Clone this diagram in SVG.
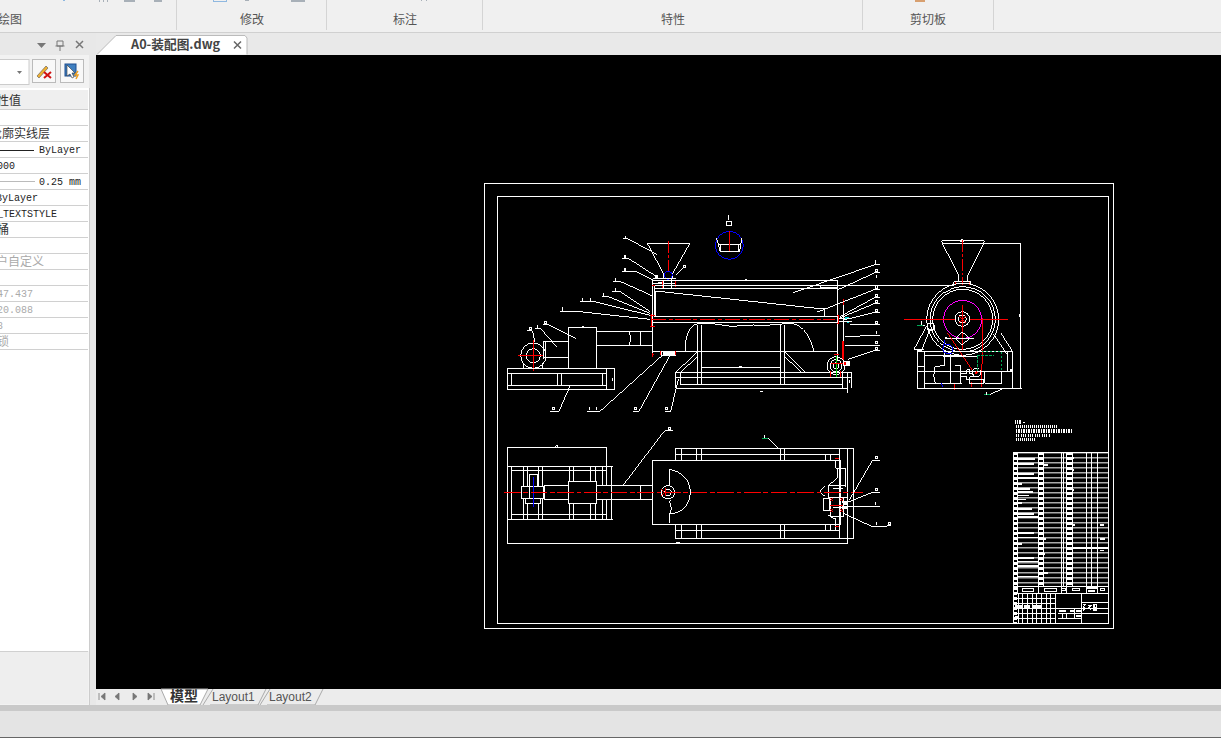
<svg xmlns="http://www.w3.org/2000/svg" width="1221" height="744" viewBox="0 0 1221 744">
<style>
.cn{font-family:"Noto Sans CJK SC","Liberation Sans",sans-serif}
.ui{font-size:12px;fill:#555}
.mono{font-family:"Liberation Mono","Noto Sans CJK SC",monospace;font-size:10px;fill:#222}
.val{font-size:12px;fill:#333}
.dim{fill:#aaa}
.rowline{stroke:#d0d0d0;stroke-width:1}
.sep{stroke:#d4d4d4;stroke-width:1}
.cad{shape-rendering:crispEdges}
.w{fill:none;stroke:#fff;stroke-width:3}
.t{fill:none;stroke:#fff;stroke-width:3}
.r{fill:none;stroke:#f00;stroke-width:3}
.rd{fill:none;stroke:#f00;stroke-width:3;stroke-dasharray:36 6 8 6}
.b{fill:none;stroke:#00f;stroke-width:3}
.g{fill:none;stroke:#0c0;stroke-width:3}
.m{fill:none;stroke:#f0f;stroke-width:3}
.tag{fill:none;stroke:#fff;stroke-width:3}
</style>
<defs>
<pattern id="rows" width="285" height="15" patternUnits="userSpaceOnUse" x="25" y="127">
<rect x="0" y="0" width="285" height="3" fill="#fff"/>
</pattern>
</defs>

<rect id="bg" width="1221" height="744" fill="#fff"/>
<g id="ribbon">
<rect width="1221" height="32" fill="#f0f0f0"/>
<line x1="0" y1="32.500" x2="1221" y2="32.500" stroke="#d0d0d0"/>
<path class="sep" d="M176.500 0V30M326.500 0V30M482.500 0V30M862.500 0V30M993.500 0V30"/>
<path d="M63 0h2v1h-2zM213 0v2h14v-2h-1v1h-12v-1z" fill="#8fb8e0"/>
<path d="M99 0h1v2h-1zM103 0h1v2h-1zM107 0h1v2h-1zM124 0h11v2h-11zM154 0h8v2h-8zM245 0h4v1h-4zM291 0h14v2h-14zM421 0h1v1h-1zM426 0h1v1h-1z" fill="#a8b0b8"/>
<rect x="915" y="0" width="10" height="2" fill="#d8a070"/>
<g class="cn ui">
<text x="22" y="23.500" text-anchor="end">绘图</text>
<text x="252" y="23.500" text-anchor="middle">修改</text>
<text x="405" y="23.500" text-anchor="middle">标注</text>
<text x="673" y="23.500" text-anchor="middle">特性</text>
<text x="928" y="23.500" text-anchor="middle">剪切板</text>
</g>
</g>

<g id="properties-panel">
<rect x="0" y="33" width="96" height="672" fill="#e8e8e8"/>
<rect x="0" y="55" width="89" height="650" fill="#f2f2f2"/>
<rect x="0" y="88" width="89" height="563" fill="#fff"/>
<rect x="0" y="90" width="88" height="19" fill="#efefef"/>
<line x1="89.500" y1="88" x2="89.500" y2="705" stroke="#ccc"/>
<rect x="0" y="651" width="88" height="53" fill="#eee"/>
<path class="rowline" d="M0 109.500H88M0 125.500H88M0 141.500H88M0 157.500H88M0 173.500H88M0 189.500H88M0 205.500H88M0 221.500H88M0 237.500H88M0 253.500H88M0 269.500H88M0 285.500H88M0 301.500H88M0 317.500H88M0 333.500H88M0 349.500H88M0 651.500H88"/>
<path d="M37 43h9l-4.500 5z" fill="#777"/>
<path d="M57 41h6v5h-6zM60 46v5M55.500 46h9" fill="none" stroke="#777"/>
<path d="M76 41l7 7M83 41l-7 7" stroke="#777" stroke-width="1.500"/>
<rect x="-1" y="59.500" width="30" height="25" fill="#fff" stroke="#ccc"/>
<path d="M17 71h5l-2.500 3z" fill="#777"/>
<rect x="32.500" y="59.500" width="23" height="23" fill="#f8f8f8" stroke="#bbb"/>
<path d="M37 76l9-10 2 2-9 10z" fill="#f0b030" stroke="#555" stroke-width=".6"/>
<path d="M44 72l7 6M51 72l-7 6" stroke="#d01010" stroke-width="2"/>
<rect x="60.500" y="59.500" width="23" height="23" fill="#f8f8f8" stroke="#bbb"/>
<rect x="65" y="64" width="11" height="12" fill="#3f7fc0" stroke="#1f4f90"/>
<path d="M67 65v11l3-2 2 4 2-1-2-4h3z" fill="#fff" stroke="#333" stroke-width=".6"/>
<path d="M78 71l-3 4h3l-2 4" fill="none" stroke="#f0a020" stroke-width="1.500"/>
<g class="cn val">
<text x="21" y="105" text-anchor="end">性值</text>
<text x="50" y="138" text-anchor="end">轮廓实线层</text>
<text x="9" y="234" text-anchor="end">桶</text>
<text class="dim" x="44" y="266" text-anchor="end">用户自定义</text>
<text class="dim" x="9" y="346" text-anchor="end">锁</text>
</g>
<line x1="0" y1="150.500" x2="34" y2="150.500" stroke="#222"/>
<line x1="0" y1="181.500" x2="35" y2="181.500" stroke="#bbb"/>
<g class="mono">
<text x="39" y="153">ByLayer</text>
<text x="15" y="169" text-anchor="end">000</text>
<text x="39" y="185">0.25 mm</text>
<text x="38" y="201" text-anchor="end">ByLayer</text>
<text x="57" y="217" text-anchor="end">_TEXTSTYLE</text>
<text class="dim" x="33" y="297" text-anchor="end">47.437</text>
<text class="dim" x="33" y="313" text-anchor="end">20.088</text>
<text class="dim" x="3" y="329" text-anchor="end">8</text>
</g>
</g>

<g id="doc-tab">
<rect x="96" y="33" width="1125" height="22" fill="#e9e9e9"/>
<path d="M97 54.500L116 35.500H245L247 38V54.500" fill="#fff" stroke="#bbb"/>
<text class="cn" x="131" y="49" font-size="12.700" font-weight="700" fill="#444">A0-装配图.dwg</text>
<path d="M234 41.500l7 7M241 41.500l-7 7" stroke="#666" stroke-width="1.500"/>
</g>

<rect id="canvas" x="96" y="55" width="1125" height="634" fill="#000"/>

<g id="bottom-tabs">
<rect x="96" y="689" width="1125" height="16" fill="#ececec"/>
<path d="M161 689l7 16h32l8-16z" fill="#fff" stroke="#aaa"/>
<path d="M203 705l10-16M210 705H258L266 689M260 705l10-16M267 705H315L323 689" fill="none" stroke="#aaa"/>
<path d="M99 693v7M105 693l-4 3.500 4 3.500zM119 693l-4 3.500 4 3.500zM133 693l4 3.500-4 3.500zM148 693l4 3.500-4 3.500zM154 693v7" fill="#777" stroke="#777" stroke-width=".8"/>
<text class="cn" x="170" y="701" font-size="14" font-weight="700" fill="#333">模型</text>
<text x="212" y="701" font-family="Liberation Sans,sans-serif" font-size="12" fill="#555">Layout1</text>
<text x="269" y="701" font-family="Liberation Sans,sans-serif" font-size="12" fill="#555">Layout2</text>
</g>
<g id="status-bar">
<rect x="0" y="705" width="1221" height="6" fill="#c9c9c9"/>
<rect x="0" y="711" width="1221" height="26" fill="#e4e4e4"/>
<rect x="0" y="737" width="1221" height="1" fill="#666"/>
</g>

<g id="sheet-frame" fill="none" stroke="#fff" class="cad">
<rect x="484.500" y="183.500" width="629" height="445"/>
<rect x="497.500" y="196.500" width="611" height="427"/>
</g>

<g id="side-view" class="cad" transform="translate(500 210) scale(.33333)">
<path class="w" d="M442 100H570M442 100L490 190M570 100L518 190M490 190V205M518 190V205"/>
<path class="rd" d="M505 94V186"/>
<circle class="b" cx="505" cy="196" r="12"/>
<path class="w" d="M460 205H528M460 222H528M475 218H490M491 210V234M514 205V234M526 212V232"/>
<path class="r" d="M488 214V234M528 212V232"/>
<circle class="b" cx="688" cy="106" r="42"/>
<path class="w" d="M650 85L661 126H718L726 85M658 104H720M662 126V104M716 126V104"/>
<path class="r" d="M688 62V124"/>
<rect class="w" x="680" y="34" width="14" height="12"/><path class="w" d="M686 15V30"/>
<path class="w" d="M458 211H1012M458 226H1012M466 235H1012M458 211V440M463 226V320M1012 211V452M736 209h6"/>
<path class="w" d="M466 320V243L950 295H975V320M466 320H1012M458 338H1012M458 424H1012M962 228V234H1010"/>
<path class="r" d="M452 328H1006" stroke-dasharray="46 8 12 8"/>
<path class="r" d="M450 316H466M450 349H466M455 312V352M1012 318h4V342h-4M456 226h8M456 434h6M458 428V440"/>
<path class="w" d="M458 364H290M458 406H290M388 364C392 380 392 392 388 406M421 364V406"/>
<path class="w" d="M484 424V436H528V424"/>
<path class="r" d="M482 424V436M528 424V436"/>
<rect x="488" y="424" width="36" height="11" fill="#fff"/>
<path class="t" d="M555 424C555 385 565 348 590 342L645 342L695 349L760 345L800 346L870 340C905 342 930 375 942 424"/>
<path class="w" d="M592 345V525M605 345V525M841 345V525M854 345V525M605 472H841M718 470h8"/>
<path class="w" d="M527 487H1055M527 503H1055M543 525H1027M527 535H1042M527 487V535M543 487V525M1027 487V535M1042 487V550M1055 487V535M780 544h8M1048 510v10"/>
<path class="t" d="M527 487L592 426M542 487L592 440M854 426L915 487M854 440L905 487"/>
<path class="w" d="M1032 268V395"/>
<path d="M1030 392V450" stroke="#f00" stroke-width="6"/>
<path class="r" d="M1032 268V285"/>
<path class="w" d="M1018 326H1055M1018 334H1055"/>
<path d="M1034 322h14v4h-14zM1040 335h8v4h-8z" fill="#0dd"/>
<circle class="t" cx="1008" cy="467" r="27"/><circle class="t" cx="1008" cy="467" r="18"/><circle class="t" cx="1008" cy="467" r="9"/>
<path class="g" d="M1009 438V502"/>
<path class="r" d="M992 484V502M1022 484V502M1002 433H1016M992 462H1030"/>
<rect x="1030" y="452" width="20" height="16" fill="#fff"/><rect x="1031" y="456" width="8" height="8" fill="#f00"/>
<path class="w" d="M205 352H290M205 352V477M290 352V477M245 349h6M130 396H205M130 444H205M130 396V446M138 396V446"/>
<circle class="t" cx="100" cy="437" r="38"/><circle class="t" cx="100" cy="437" r="21"/>
<path class="w" d="M70 460V477M128 460V477"/>
<path class="r" d="M54 438H130M100 390V484"/>
<path class="w" d="M22 477H344M22 490H320M22 526H320M22 540H344M22 477V540M34 490V526M172 490V526M185 490V526M307 490V526M320 477V540M344 477V540M337 505v8"/>
<g class="t">
<path d="M370 87H385L472 134"/>
<path d="M367 145H385L470 200"/>
<path d="M366 186H410L460 210"/>
<path d="M340 214H360L458 258"/>
<path d="M336 245H360L450 304"/>
<path d="M305 260H325L450 310"/>
<path d="M240 274H280L450 316"/>
<path d="M181 304H230L450 328"/>
<path d="M528 194L550 172"/>
<path d="M130 343H142L228 386"/>
<path d="M105 356H122L170 410"/>
<path d="M82 362H97L105 395"/>
<path d="M150 604H177L210 528"/>
<path d="M262 604H300L485 438"/>
<path d="M400 604H417L510 436"/>
<path d="M494 604H512L535 508"/>
</g>
<g class="tag">
<path d="M377 78v9M375 136v9h2v-9zM375 175v9h2v-9zM348 205v9M348 233v12M311 250v10M247 265v9M272 265v9M189 292v12"/>
<rect x="133" y="334" width="7" height="7"/><rect x="88" y="352" width="7" height="7"/>
<path d="M113 346v10"/>
<rect x="466" y="197" width="6" height="6"/>
<rect x="550" y="166" width="6" height="6"/>
<rect x="157" y="592" width="7" height="7"/>
<path d="M269 591v9M291 591v9"/>
<rect x="403" y="592" width="7" height="7"/>
<rect x="496" y="592" width="7" height="7"/>
</g>
<g class="t">
<path d="M880 248L1125 164H1140"/>
<path d="M1012 240L1125 188H1140"/>
<path d="M1012 228H1140"/>
<path d="M950 307L1125 238H1140"/>
<path d="M1020 320L1125 262H1140"/>
<path d="M1020 324L1125 280H1140"/>
<path d="M1030 330L1125 307H1140"/>
<path d="M1050 344H1140"/>
<path d="M1035 380L1125 376H1140"/>
<path d="M1035 406H1140"/>
<path d="M1045 448L1105 428L1125 421H1140"/>
</g>
<g class="tag">
<path d="M1128 151v10M1130 195v10"/>
<rect x="1126" y="178" width="7" height="7"/>
<rect x="1126" y="228" width="7" height="7"/>
<rect x="1126" y="253" width="7" height="7"/>
<rect x="1126" y="271" width="7" height="7"/>
<rect x="1126" y="298" width="7" height="7"/>
<rect x="1126" y="334" width="7" height="7"/>
<path d="M1130 364v9"/>
<rect x="1126" y="394" width="7" height="7"/>
<rect x="1126" y="412" width="7" height="7"/>
</g>
</g>

<g id="end-view" class="cad" transform="translate(890 230) scale(.33333)">
<path class="w" d="M155 33H283M155 33L158 42M283 33L280 42M158 42H280M158 42L207 138M280 42L232 138M207 138V156M232 138V156M192 166V156H242V166M390 40H283M392 40V475M-30 166H192M212 30h8v5h-8zM388 252v10"/>
<path class="rd" d="M217 30V164" stroke-dasharray="48 8 30 8"/>
<path class="r" d="M198 155V164M238 155V164"/>
<circle class="w" cx="218" cy="268" r="108"/><circle class="t" cx="218" cy="268" r="98"/><circle class="t" cx="218" cy="268" r="90"/>
<circle class="m" cx="218" cy="268" r="57"/>
<circle class="t" cx="217" cy="267" r="22"/><circle class="t" cx="217" cy="267" r="12"/>
<path class="r" d="M42 268H195M240 268H355M217 225V360"/>
<path class="r" d="M206 258L228 280M228 258L206 280"/>
<path class="t" d="M217 306L238 325L217 345L197 325ZM165 325H252"/>
<path class="r" d="M172 308L250 425M277 265V340L275 470M193 458V480M245 456V472"/>
<path class="w" d="M82 365H368M82 365V475M368 365V475M82 475H395M82 426H368M103 365V475M82 410H103M160 380H260M103 378H215M103 426H215M103 460H215M183 365V460"/>
<path class="t" d="M132 440C132 412 132 408 150 408H165M165 408V365M132 440C132 458 140 462 150 462M195 408H212V460M212 430H230V420H240V432H250V440H240V450H230V440H212"/>
<rect class="w" x="240" y="448" width="40" height="14"/>
<path class="w" d="M285 426H335M285 460H335M335 426V460M285 426V460"/>
<circle class="w" cx="259" cy="428" r="13"/><circle cx="259" cy="428" r="4" fill="#f00"/>
<path class="w" d="M110 288L72 358L104 365M120 298L95 360M332 308L368 365M310 312L352 375M80 358h22"/>
<rect x="112" y="280" width="20" height="20" fill="none" stroke="#fff" stroke-width="4" rx="5"/>
<path class="t" d="M80 287H104M94 272v14"/>
<path d="M80 287h18" stroke="#0a5" stroke-width="3"/>
<path class="b" d="M165 330L160 350C155 360 160 372 186 372M165 345C180 340 190 350 188 366M155 460L157 472"/>
<path d="M165 320h6v7h-6z" fill="#fff"/>
<path d="M262 378V426M262 378H312M275 365H335V440" fill="none" stroke="#0a5" stroke-width="3" stroke-dasharray="8 4"/>
<path class="w" d="M352 365V426M335 440V426"/>
<path d="M360 418h6v7h-6z" fill="#fff"/>
<path class="t" d="M282 493H302L337 476"/>
<path d="M282 495h18" stroke="#0a5" stroke-width="3"/>
<path class="w" d="M290 487v8"/>
</g>

<g id="plan-view" class="cad" transform="translate(500 420) scale(.33333)">
<path class="w" d="M22 82H320M22 82V372M320 82V140M22 372H1042M168 78h6v5h-6zM530 367h8v4h-8z"/>
<path class="w" d="M22 140H338M34 152H320M34 284H320M22 298H338M34 140V298M70 140V298M82 140V298M115 140V298M128 140V298M208 140V298M222 140V298M272 140V298M286 140V298M307 140V298M320 140V298M335 140V298"/>
<rect fill="#000" stroke="#fff" stroke-width="3" x="135" y="197" width="200" height="41"/>
<rect fill="#000" stroke="#fff" stroke-width="3" x="205" y="184" width="85" height="66"/>
<rect fill="#000" stroke="#fff" stroke-width="3" x="76" y="236" width="46" height="14"/>
<path class="w" d="M88 199V163H114V199"/>
<rect fill="#000" stroke="#fff" stroke-width="3" x="64" y="199" width="70" height="37"/>
<path class="w" d="M90 199V236M130 199V236"/>
<path class="w" d="M290 196H458M290 238H458M421 196V238"/>
<path d="M100 170V260" stroke="#00f" stroke-width="3"/>
<rect fill="#000" stroke="#fff" stroke-width="3" x="458" y="121" width="565" height="193"/>
<path class="w" d="M526 121V85H1062M526 314V355H1062M526 105H1020M526 333H1020M546 85V121M590 85V121M604 85V121M841 85V121M854 85V121M546 314V355M590 314V355M604 314V355M841 314V355M854 314V355M977 105V121M992 105V121M977 314V333M992 314V333M1020 85V355M1042 85V372M1062 85V355"/>
<path class="t" d="M508 148C550 155 572 185 571 220C568 258 545 280 508 282M510 148V195M511 240C505 252 522 262 508 282V308M510 282V290"/>
<circle class="t" cx="504" cy="217" r="20"/><circle class="t" cx="504" cy="217" r="10"/>
<path class="r" d="M484 207L492 215M484 227L492 219M498 205V229"/>
<path class="w" d="M1008 122V145H1038V200M1012 145V175L985 196H1038M985 196V232H1040M975 200C958 205 958 225 975 228M970 235H990V272H970ZM992 232H1030V290H992ZM985 285L1000 295H1008V330M1000 262H1030M1000 205H1030"/>
<path class="r" d="M1005 115H1018M1005 320H1018M1000 217H1018M990 256H1030"/>
<path class="r" d="M991 234l8 8M999 234l-8 8M991 268l8 8M999 268l-8 8M1021 234l8 8M1029 234l-8 8M1021 268l8 8M1029 268l-8 8"/>
<path d="M1025 242h20v6h-20zM1030 250h14v6h-14zM1025 258h18v8h-18z" fill="#fff"/>
<path class="r" d="M12 217H1090" stroke-dasharray="50 8 14 8" stroke-width="4"/>
<g class="t">
<path d="M370 195L494 32H518"/>
<path d="M786 55H805L838 88"/>
<path d="M1048 240L1117 122H1140"/>
<path d="M1045 246L1117 217H1140"/>
<path d="M1040 259H1140"/>
<path d="M1030 280L1117 320H1150L1174 316"/>
</g>
<g class="tag">
<rect x="505" y="22" width="7" height="7"/>
<rect x="1126" y="109" width="7" height="7"/>
<rect x="1126" y="205" width="7" height="7"/>
<path d="M1128 246v8M1131 306v10"/>
<rect x="1165" y="307" width="7" height="7"/>
<path d="M793 45v9"/>
</g>
<path d="M786 55h18" stroke="#0a5" stroke-width="3"/>
</g>

<g id="title-block" class="cad" transform="translate(1005 410) scale(.33333)">
<path class="w" d="M33 31v10M38 31v10M43 31v10M48 31v10M54 38h6"/>
<path d="M33 49H155" stroke="#fff" stroke-width="9" stroke-dasharray="3 3"/>
<path d="M33 62H205" stroke="#fff" stroke-width="12" stroke-dasharray="3 2"/>
<path d="M33 76H135" stroke="#fff" stroke-width="9" stroke-dasharray="3 4"/>
<path d="M33 88H94" stroke="#fff" stroke-width="9" stroke-dasharray="3 3"/>
<rect x="25" y="127" width="285" height="403" fill="url(#rows)"/>
<path class="w" d="M25 127H310M25 127V640M37 127V530M100 127V530M115 127V530M170 127V530M177 127V530M184 127V530M203 127V530M245 127V530M259 127V530M278 127V530M310 127V640"/>
<path d="M31 127V640" stroke="#fff" stroke-width="9" stroke-dasharray="7 8"/>
<path d="M107 127V530" stroke="#fff" stroke-width="12" stroke-dasharray="8 7"/>
<path d="M193 127V530" stroke="#fff" stroke-width="15" stroke-dasharray="8 7"/>
<path d="M40 147H90M40 162H88M40 192H86M40 205H100M40 222H52M40 237H75M40 247H84M40 257H72M40 269H62M40 280H52M40 298H80M40 312H86M40 322H100M40 370H86M40 383H100M40 402H50M40 445H86M40 455H100M40 468H100M40 500H100M115 166H128M115 212H118M115 244H118M115 355H118M115 388H122M115 432H120M115 478H118M115 490H128M203 145H206M203 180H208M203 240H208M203 345H210M203 415H310M285 388H300M285 345H298M285 422H298" stroke="#fff" stroke-width="5" fill="none"/>
<path class="w" d="M25 530H310M25 551H310M37 530V551M100 530V551M170 530V551M184 530V551M245 530V551M278 530V551"/>
<path class="w" d="M52 535H87V546H52ZM118 535H155V546H118ZM170 535H183V542H170ZM202 535H225V542H202ZM288 535H299V542H288Z"/>
<path d="M245 534H275M250 544H270" stroke="#fff" stroke-width="6"/>
<path class="w" d="M25 565H152M25 580H152M25 595H152M25 610H152M25 625H152M25 640H310M40 551V640M54 551V640M67 551V640M82 551V640M96 551V640M110 551V640M125 551V640M138 551V640M152 551V640"/>
<path d="M30 590H50M58 590H75M85 590H112M30 622H38" stroke="#fff" stroke-width="7"/>
<path class="w" d="M152 595H310M229 551V640M229 577H310M229 610H310M160 610H229M160 625H229M172 610V625M185 610V625M208 595V625"/>
<path d="M162 602H182M195 604H206M212 602H227M212 617H227" stroke="#fff" stroke-width="6"/>
<path d="M233 584h8l-6 6 6 5-7 6M250 586h9l-8 7 8 8M267 584h7v16h-7zM267 592h7" fill="none" stroke="#fff" stroke-width="4"/>
</g>
</svg>
